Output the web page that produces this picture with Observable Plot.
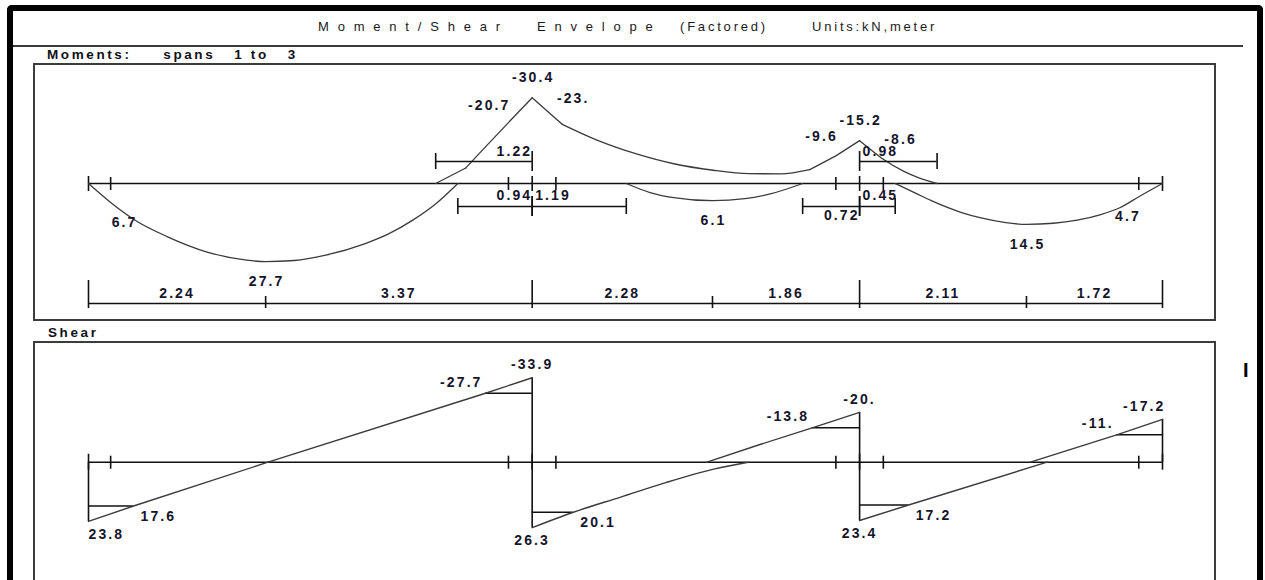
<!DOCTYPE html>
<html>
<head>
<meta charset="utf-8">
<script src="https://cdn.jsdelivr.net/npm/d3@7"></script>
<script src="https://cdn.jsdelivr.net/npm/@observablehq/plot@0.6"></script>
<style>
html,body{margin:0;padding:0;background:#fff;}
body{position:relative;width:1265px;height:580px;overflow:hidden;font-family:"Liberation Sans",Arial,sans-serif;color:#111;}
.a{position:absolute;white-space:pre;line-height:16px;}
#outer{position:absolute;left:7px;top:5px;width:1244px;height:640px;border:6px solid #000;border-bottom:none;border-radius:5px 5px 0 0;}
#sep{position:absolute;left:13px;top:45px;width:1230px;height:2px;background:#3a3a3a;}
.t{top:19px;font-size:13px;letter-spacing:2.8px;color:#1a1a1a;}
.sp{letter-spacing:8.8px;}
.h{font-size:13.5px;font-weight:bold;letter-spacing:2.6px;color:#101018;}
.box{position:absolute;box-sizing:border-box;border:2px solid #3c3c3c;pointer-events:none;}
.panel{position:absolute;}
</style>
</head>
<body>
<div id="outer"></div>
<div id="sep"></div>
<div class="a t sp" style="left:318px">Moment/Shear</div>
<div class="a t sp" style="left:537px">Envelope</div>
<div class="a t" style="left:680px">(Factored)</div>
<div class="a t" style="left:812px">Units:kN,meter</div>
<div class="a h" style="left:47px;top:47px">Moments:     spans   1 to   3</div>
<div id="mPanel" class="panel" style="left:34px;top:64px"></div>
<div class="box" style="left:33px;top:63px;width:1183px;height:258px"></div>
<div class="a h" style="left:48px;top:325px">Shear</div>
<div id="vPanel" class="panel" style="left:34px;top:342px"></div>
<div class="box" style="left:33px;top:341px;width:1183px;height:270px"></div>
<div class="a" style="left:1243px;top:360px;font-size:20px;line-height:20px;font-weight:bold;color:#000">I</div>
<script>
// ---------------- data ----------------
const spanLengths = [5.61, 4.14, 3.83];          // m
const maxMomentAt = [2.24, 2.28, 2.11];          // distance of max sagging moment from left support of span
const faceLocs = [0.28, 5.31, 5.91, 9.45, 10.05, 13.28]; // column faces (m from left end)

// Moment envelope [x (m), M (kN·m)], sagging positive
const mSag1 = [[0,0],[0.28,6.7],[0.6,13.2],[1.0,18.9],[1.5,24.3],[2.0,27.2],[2.24,27.7],[2.6,27.3],[3.0,25.4],[3.5,21.3],[3.8,17.8],[4.1,13.0],[4.4,7.0],[4.67,0]];
const mSag2 = [[6.80,0],[7.1,3.2],[7.4,5.0],[7.89,6.1],[8.3,5.4],[8.62,3.7],[9.03,0]];
const mSag3 = [[10.20,0],[10.45,3.3],[10.65,6.0],[11.03,10.2],[11.3,12.3],[11.6,13.9],[11.86,14.5],[12.2,14.1],[12.5,13.0],[12.8,11.0],[13.04,8.6],[13.28,4.7],[13.58,0]];
const mHog1a = [[4.39,0],[4.77,-5.5]];
const mHog1b = [[4.77,-5.5],[5.04,-13.6],[5.31,-21.6],[5.61,-30.4]];
const mHog2a = [[5.61,-30.4],[5.91,-23.0],[5.99,-21.0]];
const mHog2b = [[5.99,-21.0],[6.43,-15.4],[6.94,-10.4],[7.4,-7.0],[7.9,-4.7],[8.35,-3.5],[8.75,-3.4],[9.12,-4.9]];
const mHog2c = [[9.12,-4.9],[9.45,-9.8],[9.75,-15.2]];
const mHog3 = [[9.75,-15.2],[9.90,-11.8],[10.05,-8.6],[10.31,-4.3],[10.5,-2.0],[10.73,0]];

// Extents of hogging / sagging zones measured from the interior supports
const momentBrackets = [
  {at: 5.61, len: 1.22, dir: -1, region: "hogging"},
  {at: 5.61, len: 0.94, dir: -1, region: "sagging"},
  {at: 5.61, len: 1.19, dir: 1, region: "sagging"},
  {at: 9.75, len: 0.98, dir: 1, region: "hogging"},
  {at: 9.75, len: 0.72, dir: -1, region: "sagging"},
  {at: 9.75, len: 0.45, dir: 1, region: "sagging"}
];
const momentLabels = [
  {x: 5.61, v: -30.4, text: "-30.4", where: "support"},
  {x: 5.31, v: -20.7, text: "-20.7", where: "leftFace"},
  {x: 5.91, v: -23.0, text: "-23.", where: "rightFace"},
  {x: 0.28, v: 6.7, text: "6.7", where: "rightFace"},
  {x: 2.24, v: 27.7, text: "27.7", where: "max"},
  {x: 7.89, v: 6.1, text: "6.1", where: "max"},
  {x: 9.45, v: -9.6, text: "-9.6", where: "leftFace"},
  {x: 9.75, v: -15.2, text: "-15.2", where: "support"},
  {x: 10.05, v: -8.6, text: "-8.6", where: "rightFace"},
  {x: 11.86, v: 14.5, text: "14.5", where: "max"},
  {x: 13.28, v: 4.7, text: "4.7", where: "leftFace"}
];

// Shear envelope [x (m), V (kN)], positive drawn downward
const vPos1 = [[0,23.8],[0.57,17.6],[2.27,0]];
const vNeg1 = [[2.27,0],[5.02,-27.7],[5.61,-33.9]];
const vPos2 = [[5.61,26.3],[6.13,20.1],[6.73,14.0],[7.3,8.2],[7.92,2.7],[8.34,0]];
const vNeg2 = [[7.82,0],[8.5,-7.2],[9.15,-13.8],[9.75,-20.0]];
const vPos3 = [[9.75,23.4],[10.37,17.2],[12.12,0]];
const vNeg3 = [[11.91,0],[13.0,-11.0],[13.58,-17.2]];
const shearStart = [23.8, 26.3, 23.4];          // at left end of each span
const shearStartText = ["23.8", "26.3", "23.4"];
const shearEnd = [-33.9, -20.0, -17.2];         // at right end of each span
const shearEndText = ["-33.9", "-20.", "-17.2"];
const faceShear = [
  {x1: 0, x2: 0.57, v: 17.6, text: "17.6"},
  {x1: 5.02, x2: 5.61, v: -27.7, text: "-27.7"},
  {x1: 5.61, x2: 6.13, v: 20.1, text: "20.1"},
  {x1: 9.15, x2: 9.75, v: -13.8, text: "-13.8"},
  {x1: 9.75, x2: 10.37, v: 17.2, text: "17.2"},
  {x1: 13.0, x2: 13.58, v: -11.0, text: "-11."}
];

// ---------------- drawing ----------------
const supports = [0];
spanLengths.forEach(L => supports.push(+(supports[supports.length - 1] + L).toFixed(2)));
const total = supports[supports.length - 1];
const maxLocs = maxMomentAt.map((d, i) => +(supports[i] + d).toFixed(2));

const FONT = "'Liberation Sans', Arial, sans-serif";
const INK = "#111";
const CURVE = "#3b3b3b";
const LBL = {fontSize: 14, fontWeight: "bold", fill: "#14142a"};
const SVGSTYLE = "background:transparent;overflow:visible;letter-spacing:2.1px;font-family:" + FONT + ";";
const xScale = {domain: [0, total], range: [54, 1128], axis: null};

const tick = (data, up, down, extra = {}) =>
  Plot.ruleX(data, {x: d => d, y1: 0, y2: 0, insetTop: -up, insetBottom: -down, stroke: INK, strokeWidth: 1.6, ...extra});
const curve = (pts, smooth, w = 1.3) =>
  Plot.line(pts, {x: d => d[0], y: d => d[1], curve: smooth ? "monotone-x" : "linear", stroke: CURVE, strokeWidth: w});

// ---- Moment panel ----
const MPX = 2.82, mBase = 119;
const belowBracket = new Set([0.72]);
const dimSegs = [];
spanLengths.forEach((L, i) => {
  dimSegs.push({a: supports[i], b: maxLocs[i]});
  dimSegs.push({a: maxLocs[i], b: supports[i + 1]});
});
const mMarks = [
  Plot.ruleY([0], {x1: 0, x2: total, stroke: INK, strokeWidth: 1.6}),
  tick(supports, 7, 8),
  tick(faceLocs, 6, 7),
  curve(mSag1, true), curve(mSag2, true), curve(mSag3, true),
  curve(mHog1a, false), curve(mHog1b, true), curve(mHog2a, false), curve(mHog2b, true), curve(mHog2c, false), curve(mHog3, true)
];
for (const b of momentBrackets) {
  const far = b.at + b.dir * b.len;
  const dy = b.region === "hogging" ? -22 : 23;
  mMarks.push(Plot.ruleY([b], {x1: d => d.at, x2: () => far, y: 0, dy, stroke: INK, strokeWidth: 1.6}));
  mMarks.push(tick([far], 8, 8, {dy}));
  mMarks.push(tick([b.at], 10, 10, {dy}));
  const ldy = b.region === "hogging" ? -32 : (belowBracket.has(b.len) ? 32 : 12);
  mMarks.push(Plot.text([b], {x: "at", y: 0, text: d => d.len.toFixed(2), textAnchor: b.dir < 0 ? "end" : "start", dx: b.dir < 0 ? 0 : 3, dy: ldy, ...LBL}));
}
mMarks.push(
  Plot.ruleY([0], {x1: 0, x2: total, dy: 120, stroke: INK, strokeWidth: 1.6}),
  tick(supports, 23, 5, {dy: 120}),
  tick(maxLocs, 7, 5, {dy: 120}),
  Plot.text(dimSegs, {x: d => (d.a + d.b) / 2, y: 0, dy: 110, text: d => (d.b - d.a).toFixed(2), ...LBL})
);
for (const d of momentLabels) {
  const anchor = d.where === "leftFace" ? "end" : d.where === "rightFace" ? "start" : "middle";
  mMarks.push(Plot.text([d], {x: "x", y: "v", text: "text", textAnchor: anchor,
    dx: anchor === "end" ? 2 : 1, dy: d.v < 0 ? -20 : 20, ...LBL}));
}
const mPlot = Plot.plot({
  width: 1181, height: 256, margin: 0, style: SVGSTYLE,
  x: xScale,
  y: {domain: [-40, 40], range: [mBase - 40 * MPX, mBase + 40 * MPX], axis: null},
  marks: mMarks
});
document.getElementById("mPanel").appendChild(mPlot);

// ---- Shear panel ----
const VPX = 2.49, vBase = 119.7;
const supportVerticals = supports.map((s, k) => ({
  at: s,
  from: k > 0 ? shearEnd[k - 1] : 0,
  to: k < spanLengths.length ? shearStart[k] : 0
}));
const vMarks = [
  Plot.ruleY([0], {x1: 0, x2: total, stroke: INK, strokeWidth: 1.6}),
  tick(supports, 8, 8),
  tick(faceLocs, 6, 7),
  Plot.ruleX(supportVerticals, {x: "at", y1: "from", y2: "to", stroke: INK, strokeWidth: 1.6}),
  Plot.ruleY(faceShear, {x1: "x1", x2: "x2", y: "v", stroke: INK, strokeWidth: 1.5}),
  curve(vPos1, false, 1.4), curve(vNeg1, false, 1.4), curve(vPos2, true, 1.4),
  curve(vNeg2, false, 1.4), curve(vPos3, false, 1.4), curve(vNeg3, false, 1.4)
];
for (const f of faceShear) {
  const pos = f.v > 0;
  vMarks.push(Plot.text([f], {x: pos ? "x2" : "x1", y: "v", text: "text", textAnchor: pos ? "start" : "end",
    dx: pos ? 7 : -3, dy: pos ? 10 : -11, ...LBL}));
}
const endLabels = [];
shearStart.forEach((v, i) => endLabels.push({x: supports[i], v, text: shearStartText[i]}));
shearEnd.forEach((v, i) => endLabels.push({x: supports[i + 1], v, text: shearEndText[i]}));
for (const d of endLabels) {
  const anchor = d.x === 0 ? "start" : d.x === total ? "end" : "middle";
  vMarks.push(Plot.text([d], {x: "x", y: "v", text: "text", textAnchor: anchor,
    dx: anchor === "end" ? 3 : 0, dy: d.v < 0 ? -13 : 13, ...LBL}));
}
const vPlot = Plot.plot({
  width: 1181, height: 238, margin: 0, style: SVGSTYLE,
  x: xScale,
  y: {domain: [-40, 40], range: [vBase - 40 * VPX, vBase + 40 * VPX], axis: null},
  marks: vMarks
});
document.getElementById("vPanel").appendChild(vPlot);
</script>
</body>
</html>
